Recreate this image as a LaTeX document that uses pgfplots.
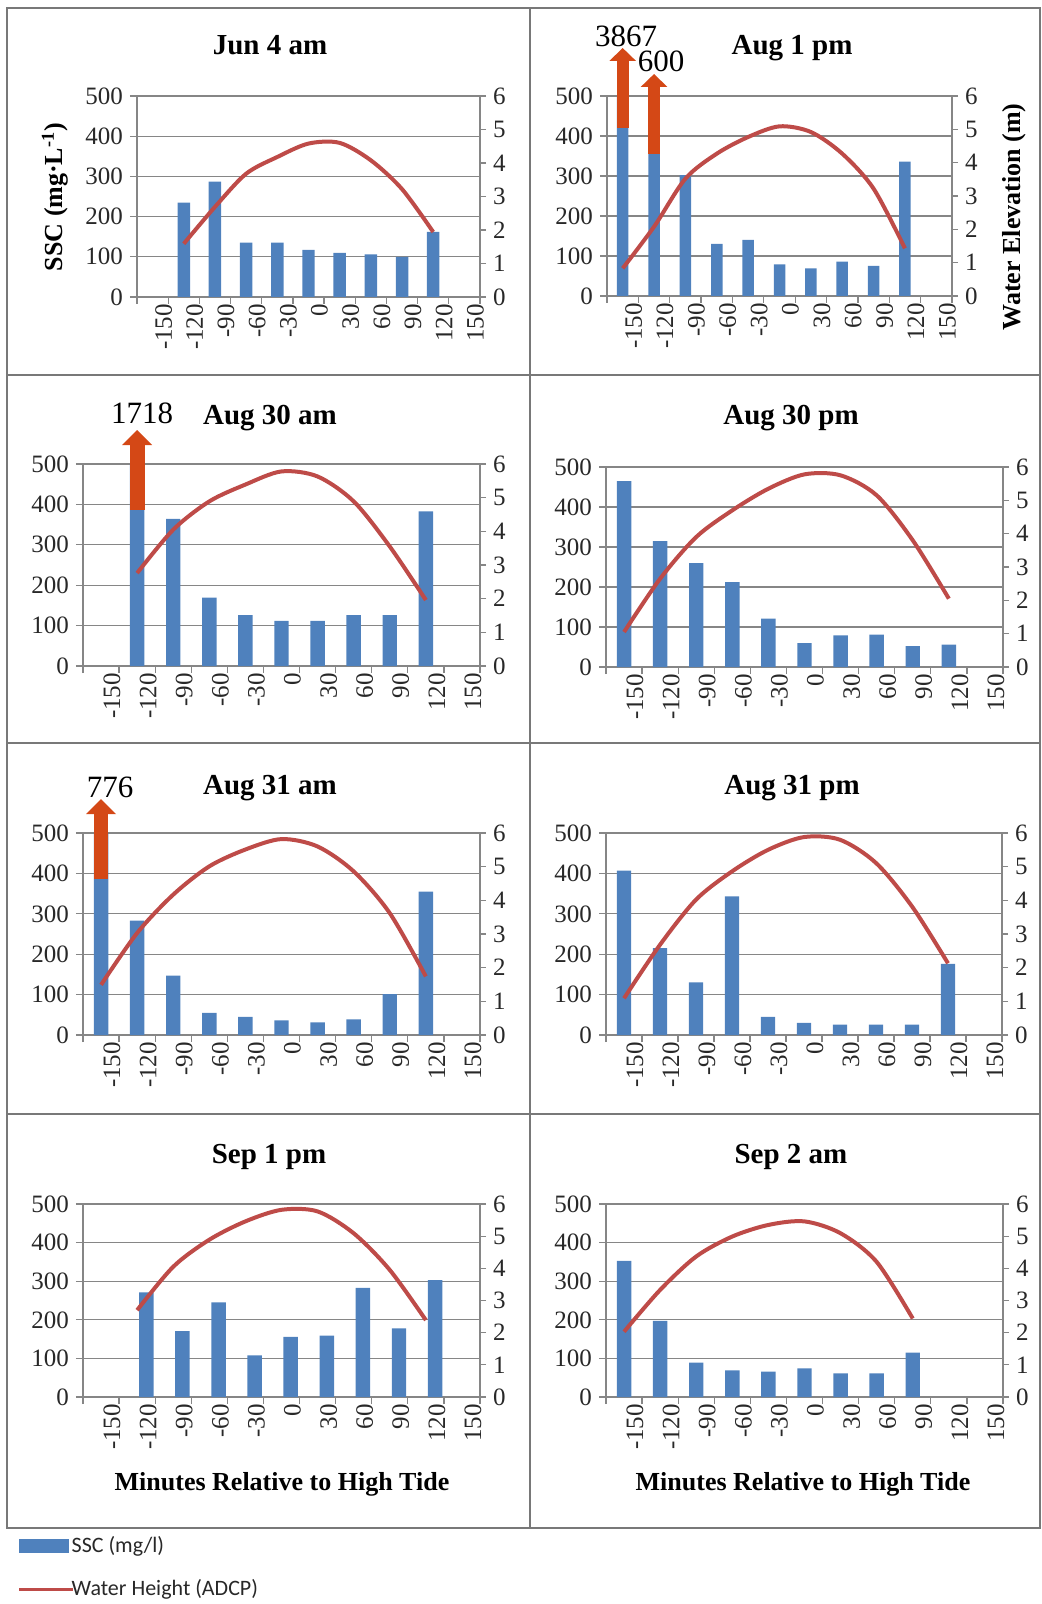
\documentclass[border=0pt]{standalone}
\usepackage{fontspec}
\setmainfont{Liberation Serif}
\newfontfamily\legendfont{Carlito}
\usepackage{pgfplots}
\pgfplotsset{compat=1.18}
\usetikzlibrary{arrows.meta}
\definecolor{barblue}{RGB}{79,129,189}
\definecolor{linered}{RGB}{190,75,72}
\definecolor{arrowc}{RGB}{212,72,22}
\definecolor{gridc}{RGB}{134,134,134}
\definecolor{tickc}{RGB}{40,40,40}
\definecolor{panelc}{RGB}{120,120,120}
\newcommand\tickfs{\rmfamily\fontsize{12.5}{14}\selectfont}
\newcommand\titlefont{\rmfamily\fontsize{14.5}{16}\selectfont\bfseries}
\newcommand\labfont{\rmfamily\fontsize{13}{15}\selectfont\bfseries}
\newcommand\numfont{\rmfamily\fontsize{15.5}{17}\selectfont}
\pgfplotsset{
  common/.style={scale only axis, xmin=-165, xmax=165, enlargelimits=false,
    /pgf/number format/assume math mode=true},
  barax/.style={common, ymin=0, ymax=500, ytick={0,100,...,500},
    yticklabels={0,100,200,300,400,500},
    axis x line*=bottom, axis y line*=left, ymajorgrids,
    grid style={gridc, line width=0.6pt},
    axis line style={gridc, line width=0.6pt},
    tick style={gridc, line width=0.6pt},
    tick align=outside, major tick length=3.5pt,
    xtick={-165,-135,...,165}, xticklabels={},
    extra x ticks={-150,-120,...,150},
    extra x tick labels={-150,-120,-90,-60,-30,0,30,60,90,120,150},
    extra x tick style={major tick length=0pt},
    xticklabel style={rotate=90, anchor=east, font=\tickfs, text=tickc, yshift=-5.5pt},
    yticklabel style={font=\tickfs, text=tickc},
    ybar, bar width=12},
  waterax/.style={common, ymin=0, ymax=6, ytick={0,...,6},
    yticklabels={0,1,2,3,4,5,6},
    axis y line*=right, axis x line=none,
    axis line style={gridc, line width=0.6pt},
    tick style={gridc, line width=0.6pt},
    tick align=outside, major tick length=3pt,
    yticklabel style={font=\tickfs, text=tickc}},
  arrowax/.style={common, ymin=0, ymax=500, hide axis, clip=false},
  bars/.style={fill=barblue, draw=none},
  water/.style={linered, line width=2pt, smooth, no markers},
}
\begin{document}
\begin{tikzpicture}
\useasboundingbox (0pt,0pt) rectangle (520.5pt,-802pt);
% panel frames
\draw[panelc, line width=0.8pt] (3.5pt,-4pt) rectangle (520pt,-764pt);
\draw[panelc, line width=0.8pt] (265pt,-4pt) -- (265pt,-764pt);
\draw[panelc, line width=0.8pt] (3.5pt,-187.5pt) -- (520pt,-187.5pt);
\draw[panelc, line width=0.8pt] (3.5pt,-371.5pt) -- (520pt,-371.5pt);
\draw[panelc, line width=0.8pt] (3.5pt,-557pt) -- (520pt,-557pt);

% ---------- P1 Jun 4 am ----------
\begin{axis}[barax, at={(68.5pt,-148.5pt)}, anchor=south west, width=171.5pt, height=100.5pt]
\addplot[bars] coordinates {(-120,235)(-90,287)(-60,135)(-30,135)(0,117)(30,110)(60,106)(90,100)(120,162)};
\end{axis}
\begin{axis}[waterax, at={(68.5pt,-148.5pt)}, anchor=south west, width=171.5pt, height=100.5pt]
\addplot[water] coordinates {(-120,1.59)(-90,2.69)(-60,3.68)(-30,4.18)(0,4.58)(30,4.6)(60,4.08)(90,3.22)(120,1.94)};
\end{axis}

% ---------- P2 Aug 1 pm ----------
\begin{axis}[barax, bar width=11, at={(303.5pt,-148pt)}, anchor=south west, width=172.5pt, height=100pt]
\addplot[bars] coordinates {(-150,3867)(-120,600)(-90,302)(-60,130)(-30,140)(0,79)(30,69)(60,86)(90,75)(120,336)};
\end{axis}
\begin{axis}[waterax, at={(303.5pt,-148pt)}, anchor=south west, width=172.5pt, height=100pt]
\addplot[water] coordinates {(-150,0.83)(-120,2.08)(-90,3.52)(-60,4.27)(-30,4.77)(0,5.09)(30,4.92)(60,4.27)(90,3.22)(120,1.43)};
\end{axis}
\begin{axis}[arrowax, at={(303.5pt,-148pt)}, anchor=south west, width=172.5pt, height=100pt]
\addplot[arrowc, line width=6pt, -{Triangle[width=13pt,length=6.5pt]}] coordinates {(-150,420)(-150,620)};
\addplot[arrowc, line width=6pt, -{Triangle[width=13pt,length=6.5pt]}] coordinates {(-120,355)(-120,555)};
\end{axis}

% ---------- P3 Aug 30 am ----------
\begin{axis}[barax, at={(41.5pt,-333pt)}, anchor=south west, width=198.5pt, height=101pt]
\addplot[bars] coordinates {(-120,1718)(-90,364)(-60,169)(-30,126)(0,112)(30,112)(60,126)(90,126)(120,383)};
\end{axis}
\begin{axis}[waterax, at={(41.5pt,-333pt)}, anchor=south west, width=198.5pt, height=101pt]
\addplot[water] coordinates {(-120,2.76)(-90,4.05)(-60,4.89)(-30,5.39)(0,5.78)(30,5.63)(60,4.89)(90,3.55)(120,1.96)};
\end{axis}
\begin{axis}[arrowax, at={(41.5pt,-333pt)}, anchor=south west, width=198.5pt, height=101pt]
\addplot[arrowc, line width=7.4pt, -{Triangle[width=14.5pt,length=7.5pt]}] coordinates {(-120,387)(-120,584)};
\end{axis}

% ---------- P4 Aug 30 pm ----------
\begin{axis}[barax, at={(303pt,-333.5pt)}, anchor=south west, width=198.5pt, height=100pt]
\addplot[bars] coordinates {(-150,465)(-120,315)(-90,260)(-60,212)(-30,121)(0,60)(30,79)(60,81)(90,52)(120,56)};
\end{axis}
\begin{axis}[waterax, at={(303pt,-333.5pt)}, anchor=south west, width=198.5pt, height=100pt]
\addplot[water] coordinates {(-150,1.05)(-120,2.65)(-90,3.9)(-60,4.7)(-30,5.35)(0,5.78)(30,5.75)(60,5.15)(90,3.8)(120,2.05)};
\end{axis}

% ---------- P5 Aug 31 am ----------
\begin{axis}[barax, at={(41.5pt,-517.5pt)}, anchor=south west, width=198.5pt, height=101pt]
\addplot[bars] coordinates {(-150,776)(-120,283)(-90,147)(-60,55)(-30,45)(0,36)(30,31)(60,39)(90,101)(120,355)};
\end{axis}
\begin{axis}[waterax, at={(41.5pt,-517.5pt)}, anchor=south west, width=198.5pt, height=101pt]
\addplot[water] coordinates {(-150,1.49)(-120,3.03)(-90,4.17)(-60,5.01)(-30,5.51)(0,5.82)(30,5.6)(60,4.86)(90,3.62)(120,1.74)};
\end{axis}
\begin{axis}[arrowax, at={(41.5pt,-517.5pt)}, anchor=south west, width=198.5pt, height=101pt]
\addplot[arrowc, line width=7.4pt, -{Triangle[width=14.5pt,length=7.5pt]}] coordinates {(-150,386)(-150,584)};
\end{axis}

% ---------- P6 Aug 31 pm ----------
\begin{axis}[barax, at={(303pt,-517.5pt)}, anchor=south west, width=198pt, height=101pt]
\addplot[bars] coordinates {(-150,407)(-120,215)(-90,130)(-60,343)(-30,45)(0,30)(30,26)(60,26)(90,26)(120,176)};
\end{axis}
\begin{axis}[waterax, at={(303pt,-517.5pt)}, anchor=south west, width=198pt, height=101pt]
\addplot[water] coordinates {(-150,1.09)(-120,2.68)(-90,4.02)(-60,4.86)(-30,5.5)(0,5.88)(30,5.8)(60,5.11)(90,3.82)(120,2.13)};
\end{axis}

% ---------- P7 Sep 1 pm ----------
\begin{axis}[barax, at={(41.5pt,-698.5pt)}, anchor=south west, width=198.5pt, height=96.5pt,
  legend style={at={(axis description cs:-0.1625,-0.70)}, anchor=north west, draw=none, fill=none,
    font=\legendfont\fontsize{11}{13}\selectfont, text=tickc, row sep=8pt, inner sep=0pt,
    nodes={inner xsep=1pt}},
  legend cell align=left]
\addplot[bars, forget plot] coordinates {(-120,271)(-90,171)(-60,245)(-30,108)(0,156)(30,159)(60,283)(90,178)(120,303)};
\addlegendimage{legend image code/.code={\path (0pt,-3.25pt) rectangle (22.5pt,3.25pt); \fill[barblue, overlay] (0pt,-3.25pt) rectangle (24.5pt,3.25pt);}}
\addlegendentry{SSC (mg/l)}
\addlegendimage{legend image code/.code={\path (0pt,0pt) -- (25pt,0pt); \draw[linered, line width=1.6pt, overlay] (0pt,0pt) -- (27pt,0pt);}}
\addlegendentry{Water Height (ADCP)}
\end{axis}
\begin{axis}[waterax, at={(41.5pt,-698.5pt)}, anchor=south west, width=198.5pt, height=96.5pt]
\addplot[water] coordinates {(-120,2.7)(-90,4.05)(-60,4.89)(-30,5.46)(0,5.82)(30,5.77)(60,5.09)(90,3.95)(120,2.39)};
\end{axis}

% ---------- P8 Sep 2 am ----------
\begin{axis}[barax, at={(303pt,-698.5pt)}, anchor=south west, width=198.5pt, height=96.5pt]
\addplot[bars] coordinates {(-150,353)(-120,197)(-90,89)(-60,69)(-30,66)(0,74)(30,61)(60,61)(90,115)};
\end{axis}
\begin{axis}[waterax, at={(303pt,-698.5pt)}, anchor=south west, width=198.5pt, height=96.5pt]
\addplot[water] coordinates {(-150,2.03)(-120,3.33)(-90,4.37)(-60,4.99)(-30,5.35)(0,5.46)(30,5.09)(60,4.2)(90,2.44)};
\end{axis}

% titles
\node[font=\titlefont, anchor=base] at (135pt,-27.5pt) {Jun 4 am};
\node[font=\titlefont, anchor=base] at (396pt,-27.5pt) {Aug 1 pm};
\node[font=\titlefont, anchor=base] at (135pt,-212.5pt) {Aug 30 am};
\node[font=\titlefont, anchor=base] at (395.5pt,-212.5pt) {Aug 30 pm};
\node[font=\titlefont, anchor=base] at (135pt,-397pt) {Aug 31 am};
\node[font=\titlefont, anchor=base] at (396pt,-397pt) {Aug 31 pm};
\node[font=\titlefont, anchor=base] at (134.5pt,-581.5pt) {Sep 1 pm};
\node[font=\titlefont, anchor=base] at (395.5pt,-581.5pt) {Sep 2 am};
% axis labels
\node[font=\labfont, anchor=base, rotate=90] at (31.25pt,-98.5pt) {SSC (mg·L\textsuperscript{-1})};
\node[font=\labfont, anchor=base, rotate=90] at (510pt,-108.5pt) {Water Elevation (m)};
\node[font=\labfont, anchor=base] at (141pt,-745pt) {Minutes Relative to High Tide};
\node[font=\labfont, anchor=base] at (401.5pt,-745pt) {Minutes Relative to High Tide};
% off-scale values
\node[font=\numfont, anchor=base] at (313pt,-23.5pt) {3867};
\node[font=\numfont, anchor=base] at (330.5pt,-36pt) {600};
\node[font=\numfont, anchor=base] at (71pt,-211.5pt) {1718};
\node[font=\numfont, anchor=base] at (55pt,-398.5pt) {776};
\end{tikzpicture}
\end{document}
